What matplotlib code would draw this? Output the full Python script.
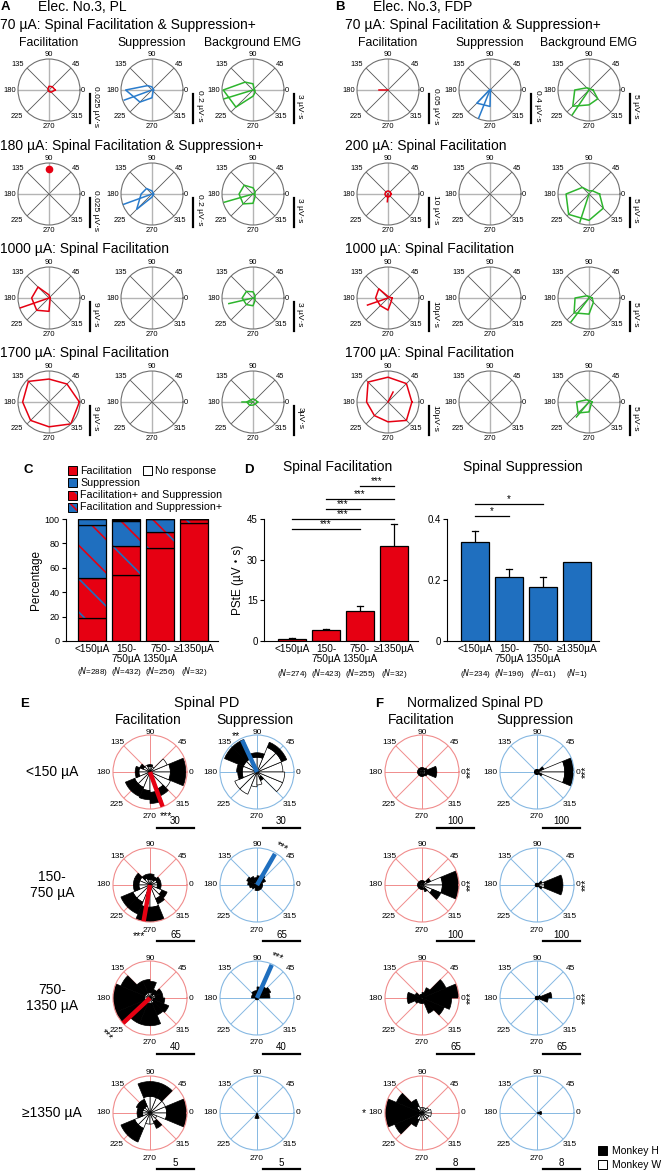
import numpy as np
import matplotlib
matplotlib.use('Agg')
import matplotlib.pyplot as plt
from matplotlib.patches import Rectangle

plt.rcParams['font.family'] = ['Liberation Sans', 'DejaVu Sans', 'Noto Sans CJK JP']
plt.rcParams['hatch.linewidth'] = 1.2
plt.rcParams['axes.linewidth'] = 0.8

# ---------------- data ----------------
ANG = [0, 45, 90, 135, 180, 225, 270, 315]

# Panel A (Elec. No.3, PL) - polygons as fraction of scale-bar value, 8 directions
A_TITLES = ["70 µA: Spinal Facilitation & Suppression+", "180 µA: Spinal Facilitation & Suppression+",
            "1000 µA: Spinal Facilitation", "1700 µA: Spinal Facilitation"]
A_SCALES = [[0.025, 0.2, 3], [0.025, 0.2, 3], [9, None, 3], [9, None, 3]]
A_LABELS = [["0.025 µV·s", "0.2 µV·s", "3 µV·s"], ["0.025 µV·s", "0.2 µV·s", "3 µV·s"],
            ["9 µV·s", None, "3 µV·s"], ["9 µV·s", None, "3µV·s"]]
A_FAC = [[0.2, 0.15, 0.12, 0.05, 0.03, 0.03, 0.05, 0.1],
         None,
         [0.03, 0.03, 0.1, 0.5, 0.56, 0.56, 0.43, 0.05],
         [0.98, 0.82, 0.74, 0.94, 0.85, 0.84, 0.8, 1.0]]
A_FAC_VEC = [None, None, (199, 1.0), None]
A_FAC_DOT = [None, (90, 0.8), None, None]
A_SUP = [[0.05, 0.05, 0.1, 0.2, 0.85, 0.55, 0.25, 0.05],
         [0.05, 0.05, 0.1, 0.25, 0.35, 0.7, 0.1, 0.05], None, None]
A_SUP_VEC = [(200, 0.95), (200, 1.0), None, None]
A_BG = [[0.05, 0.05, 0.2, 0.36, 0.96, 0.78, 0.2, 0.1],
        [0.05, 0.1, 0.2, 0.4, 0.45, 0.45, 0.3, 0.1],
        [0.05, 0.1, 0.2, 0.3, 0.35, 0.3, 0.25, 0.1],
        [0.15, 0.1, 0.1, 0.1, 0.2, 0.15, 0.1, 0.1]]
A_BG_VEC = [(197, 0.98), (196, 0.97), (193, 0.8), (180, 0.35)]

# Panel B (Elec. No.3, FDP)
B_TITLES = ["70 µA: Spinal Facilitation & Suppression+", "200 µA: Spinal Facilitation",
            "1000 µA: Spinal Facilitation", "1700 µA: Spinal Facilitation"]
B_SCALES = [[0.05, 0.4, 5], [10, None, 5], [10, None, 5], [10, None, 5]]
B_LABELS = [["0.05 µV·s", "0.4 µV·s", "5 µV·s"], ["10 µV·s", None, "5 µV·s"],
            ["10µV·s", None, "5 µV·s"], ["10µV·s", None, "5 µV·s"]]
B_FAC = [None,
         [0.1, 0.1, 0.1, 0.1, 0.1, 0.1, 0.1, 0.1],
         [0.13, 0.05, 0.05, 0.42, 0.4, 0.35, 0.39, 0.15],
         [0.77, 0.84, 0.8, 0.91, 0.69, 0.62, 0.64, 0.84]]
B_FAC_VEC = [(180, 0.3), (265, 0.25), (199, 0.7), (63, 0.36)]
B_SUP = [[0.02, 0.02, 0.02, 0.02, 0.02, 0.6, 0.53, 0.02], None, None, None]
B_SUP_VEC = [(248, 0.98), None, None, None]
B_BG = [[0.13, 0.05, 0.05, 0.1, 0.46, 0.74, 0.48, 0.4],
        [0.34, 0.15, 0.1, 0.3, 0.74, 0.93, 0.85, 0.65],
        [0.1, 0.05, 0.05, 0.1, 0.45, 0.68, 0.52, 0.2],
        [0.1, 0.05, 0.05, 0.1, 0.4, 0.5, 0.32, 0.1]]
B_BG_VEC = [(236, 1.0), (252, 0.95), (233, 1.0), (230, 0.63)]

# Panel C
C_CATS = ["<150µA", "150-\n750µA", "750-\n1350µA", "≥1350µA"]
C_N = [288, 432, 256, 32]
C_FAC = [19, 54, 76, 97]
C_FACP_SUP = [33, 24, 13, 3]     # Facilitation+ and Suppression
C_FAC_SUPP = [43, 20, 11, 0]     # Facilitation and Suppression+
C_SUP = [5, 1, 0, 0]
C_NONE = [0, 1, 0, 0]

# Panel D
D_FAC_MEAN = [0.8, 3.9, 11.1, 35.0]
D_FAC_SEM = [0.2, 0.7, 1.8, 8.2]
D_FAC_N = [274, 423, 255, 32]
D_FAC_SIG = [(2, 3, 57.2), (1, 3, 52.4), (1, 2, 48.7), (0, 3, 45.0), (0, 2, 41.3)]
D_SUP_MEAN = [0.325, 0.21, 0.177, 0.259]
D_SUP_SEM = [0.035, 0.026, 0.033, 0.0]
D_SUP_N = [234, 196, 61, 1]
D_SUP_SIG = [(0, 2, 0.449), (0, 1, 0.41)]

# Panels E/F: 16 bins (22.5 deg), white = Monkey W (inner), black = Monkey H (stacked), fraction of scale
E_ROWS = ["<150 µA", "150-\n750 µA", "750-\n1350 µA", "≥1350 µA"]
E_SCALES = [30, 65, 40, 5]
F_SCALES = [100, 100, 65, 8]
E_FAC_W = [[.55, .5, .15, .15, .15, .2, .2, .3, .3, .45, .45, .5, .55, .5, .6, .55],
           [.2, .2, .15, .15, .15, .2, .3, .3, .3, .5, .5, .6, .6, .4, .35, .2],
           [.15, .15, .1, .15, .15, .15, .15, .15, .15, .15, .15, .15, .15, .15, .1, .1],
           [.45, .45, .45, .45, .45, .2, .2, .2, .2, .45, .45, .3, .3, .25, .2, .45]]
E_FAC_H = [[.42, 0, 0, .05, .05, 0, .1, .1, .1, .27, .27, .25, .3, .2, 0, .42],
           [.1, .1, .1, .15, .15, .1, .15, .15, .15, .35, .35, .4, .4, .15, .15, .1],
           [.2, .2, .15, .3, .35, .35, .7, .85, .85, .85, .6, .6, .6, .35, .45, .3],
           [.55, 0, .4, .4, .4, .2, .2, .15, .15, .4, .4, 0, 0, .2, 0, .55]]
E_SUP_W = [[.7, .72, .72, .4, .4, .4, .4, .4, .4, .65, .65, .4, .35, .15, .75, .75],
           [0, .05, .05, .05, .05, .05, .1, .05, .05, .05, .05, .05, .05, .05, .05, .05],
           [0, 0, 0, 0, 0, 0, 0, 0, 0, 0, 0, 0, 0, 0, 0, 0],
           [0, 0, 0, 0, 0, 0, 0, 0, 0, 0, 0, 0, 0, 0, 0, 0]]
E_SUP_H = [[0, .15, .15, .12, .12, .55, .55, .15, .12, 0, 0, 0, 0, .1, 0, 0],
           [.15, .2, .25, .2, .15, .2, .2, .2, .15, .1, .05, .1, .1, .1, .1, .1],
           [.35, .4, .35, .3, .2, .2, .15, .15, .05, .05, .05, .05, .05, .05, .05, .05],
           [0, 0, 0, 0, 0, 0, 0, 0, 0, 0, 0, .15, .15, 0, 0, 0]]
F_FAC_W = [[.1, .1, .08, .08, .08, .08, .08, .08, .08, .08, .08, .08, .08, .08, .1, .1],
           [.55, .15, .07, .07, .07, .07, .07, .07, .07, .07, .07, .07, .07, .1, .3, .55],
           [.05, .05, .05, .05, .05, .05, .05, .05, .05, .05, .05, .05, .05, .05, .05, .05],
           [.25, .2, .15, .15, .15, .2, .1, .05, .05, .1, .2, .2, .2, .2, .2, .25]]
F_FAC_H = [[.3, .05, .04, .04, .04, .04, .04, .04, .04, .04, .04, .04, .04, .04, .05, .3],
           [.45, .1, .05, .05, .05, .05, .05, .05, .05, .05, .05, .05, .05, .1, .25, .45],
           [.95, .65, .25, .1, .05, .05, .15, .35, .35, .15, .1, .1, .1, .4, .6, .75],
           [0, 0, 0, 0, 0, .2, .65, .95, .95, .7, .2, 0, 0, 0, 0, 0]]
F_SUP_W = [[.75, .05, .05, .05, .05, .05, .05, .05, .05, .05, .05, .05, .05, .05, .05, .75],
           [.2, .05, .03, .03, .03, .03, .03, .03, .03, .03, .03, .03, .03, .03, .05, .2],
           [0, 0, 0, 0, 0, 0, 0, 0, 0, 0, 0, 0, 0, 0, 0, 0],
           [0, 0, 0, 0, 0, 0, 0, 0, 0, 0, 0, 0, 0, 0, 0, 0]]
F_SUP_H = [[.25, .15, .02, .02, .02, .02, .02, .02, .02, .02, .02, .02, .02, .02, .1, .25],
           [.5, .1, .02, .02, .02, .02, .02, .02, .02, .02, .02, .02, .02, .02, .1, .5],
           [.4, .1, .05, .05, .05, .05, .05, .05, .05, .05, .05, .05, .05, .05, .05, .3],
           [.12, 0, 0, 0, 0, 0, 0, 0, 0, 0, 0, 0, 0, 0, 0, .12]]
E_FAC_VEC = [(290, 1.0), (260, 1.0), (223, 1.0), None]
E_SUP_VEC = [(115, 0.95), (60, 0.97), (66, 0.98), None]
E_FAC_STAR = [("***", 290, 1.28, 0), ("***", 258, 1.4, 0), ("***", 221, 1.55, -45), None]
E_SUP_STAR = [("**", 120, 1.12, 0), ("***", 57, 1.22, -30), ("***", 64, 1.22, -20), None]
F_FAC_STAR = [("***", 0, 1.32, 90), ("***", 0, 1.32, 90), ("***", 0, 1.32, 90), ("*", 180, 1.57, 0)]
F_SUP_STAR = [("***", 0, 1.32, 90), ("***", 0, 1.32, 90), ("***", 0, 1.32, 90), None]

# ---------------- styling ----------------
RED = '#e60012'
BLUE = '#1f6fbf'
LBLUE = '#2a7ccc'
GREEN = '#2db52d'
LRED = '#f08c8c'
LBLU = '#86b8e2'

# angle label offsets (px) from circle centre: (dx, dy_up)
AB_OFF = {0: (34, 0), 45: (27, 26), 90: (0, 36), 135: (-31, 26), 180: (-39, 0),
          225: (-32, -26), 270: (0, -36), 315: (28, -26)}
EF_OFF = {0: (41, 0), 45: (33, 29), 90: (0, 40), 135: (-33, 29), 180: (-47, 0),
          225: (-33, -32), 270: (0, -45), 315: (33, -32)}

W, H = 663, 1174
fig = plt.figure(figsize=(W / 100, H / 100), dpi=100)
ov = fig.add_axes([0, 0, 1, 1])
ov.set_xlim(0, W)
ov.set_ylim(H, 0)
ov.axis('off')


def polar(cx, cy, r):
    return fig.add_axes([(cx - r) / W, 1 - (cy + r) / H, 2 * r / W, 2 * r / H], projection='polar')


def style_polar(ax, cx, cy, scale, spine_col, spoke_cols, spoke_lws, fs, offs):
    ax.set_ylim(0, scale)
    ax.set_yticks([])
    ax.set_xticks([])
    ax.grid(False)
    ax.spines['polar'].set_color(spine_col)
    ax.spines['polar'].set_linewidth(0.8)
    for i, a in enumerate(ANG):
        ax.plot([np.deg2rad(a)] * 2, [0, scale], color=spoke_cols[i], lw=spoke_lws[i], zorder=1)
        dx, dy = offs[a]
        ov.text(cx + dx, cy - dy, str(a), fontsize=fs, ha='center', va='center')


def ab_axis(cx, cy, scale, poly, vec, col, dot=None):
    ax = polar(cx, cy, 31)
    s = scale if scale else 1
    cols = ['#b4b4b4' if a % 90 == 0 else '#555555' for a in ANG]
    lws = [1.0 if a % 90 == 0 else 0.6 for a in ANG]
    style_polar(ax, cx, cy, s, '#707070', cols, lws, 5.4, AB_OFF)
    if poly is not None:
        th = np.deg2rad(ANG + [ANG[0]])
        rr = np.array(poly + [poly[0]]) * s
        ax.plot(th, rr, color=col, lw=1.1, zorder=3)
    if vec is not None:
        ax.plot([np.deg2rad(vec[0])] * 2, [0, vec[1] * s], color=col, lw=1.1, zorder=3)
    if dot is not None:
        ax.plot(np.deg2rad(dot[0]), dot[1] * s, 'o', color=col, ms=4.5, zorder=3)
    return ax


def scale_bar_v(x, cy, label):
    ov.plot([x, x], [cy + 4, cy + 33], color='black', lw=1.6)
    ov.text(x + 6, cy + 16, label, rotation=-90, fontsize=6, ha='center', va='center')


ROW_Y = [90, 194, 298, 402]
TITLE_Y = [25, 146, 249, 353]

for (letter, lx, elec, ex, titles, tx, xs, scales, labels, fac, facv, sup, supv, bg, bgv, dots) in [
    ("A", 1, "Elec. No.3, PL", 38, A_TITLES, 0, [49, 152, 253], A_SCALES, A_LABELS,
     A_FAC, A_FAC_VEC, A_SUP, A_SUP_VEC, A_BG, A_BG_VEC, A_FAC_DOT),
    ("B", 335, "Elec. No.3, FDP", 373, B_TITLES, 345, [388, 490, 589], B_SCALES, B_LABELS,
     B_FAC, B_FAC_VEC, B_SUP, B_SUP_VEC, B_BG, B_BG_VEC, [None] * 4)]:
    ov.text(lx, 7, letter, fontsize=9.5, fontweight='bold', va='center', ha='left')
    ov.text(ex, 7, elec, fontsize=10, va='center', ha='left')
    for j, name in enumerate(["Facilitation", "Suppression", "Background EMG"]):
        ov.text(xs[j], 43, name, fontsize=8.8, ha='center', va='center')
    for i in range(4):
        ov.text(tx, TITLE_Y[i], titles[i], fontsize=10, ha='left', va='center')
        cy = ROW_Y[i]
        ab_axis(xs[0], cy, scales[i][0], fac[i], facv[i], RED, dots[i])
        ab_axis(xs[1], cy, scales[i][1], sup[i], supv[i], LBLUE)
        ab_axis(xs[2], cy, scales[i][2], bg[i], bgv[i], GREEN)
        for j in range(3):
            if labels[i][j]:
                scale_bar_v(xs[j] + 41, cy, labels[i][j])

# ---------------- Panel C ----------------
ov.text(24, 470, "C", fontsize=9.5, fontweight='bold', va='center')
axc = fig.add_axes([66 / W, 1 - 641 / H, 152 / W, 122 / H])
x = np.arange(4)
bw = 0.82
bottom = np.zeros(4)
segments = [(C_FAC, RED, None, None), (C_FACP_SUP, RED, BLUE, '\\'), (C_FAC_SUPP, BLUE, RED, '\\'),
            (C_SUP, BLUE, None, None), (C_NONE, 'white', None, None)]
for vals, fc, hc, hatch in segments:
    vals = np.array(vals, float)
    if hatch:
        axc.bar(x, vals, bw, bottom=bottom, color=fc, edgecolor=hc, hatch=hatch, lw=0)
    else:
        axc.bar(x, vals, bw, bottom=bottom, color=fc, lw=0)
    axc.bar(x, vals, bw, bottom=bottom, fill=False, edgecolor='black', lw=0.9)
    bottom += vals
axc.set_xlim(-0.76, 3.69)
axc.set_ylim(0, 100)
axc.set_yticks([0, 20, 40, 60, 80, 100])
axc.tick_params(axis='y', labelsize=6.5, length=3, width=0.8, pad=1.5)
axc.set_xticks(x)
axc.set_xticklabels(C_CATS, fontsize=7.3, linespacing=1.0)
axc.tick_params(axis='x', length=0, pad=2)
axc.spines['top'].set_visible(False)
axc.spines['right'].set_visible(False)
axc.set_ylabel("Percentage", fontsize=8.5, labelpad=2)
for i, n in enumerate(C_N):
    ov.text(92 + 34 * i, 671, f"($\\it{{N}}$={n})", fontsize=5.8, ha='center', va='center')

legend_items = [(68, 466, RED, None, None, "Facilitation"), (143, 466, 'white', None, None, "No response"),
                (68, 478, BLUE, None, None, "Suppression"),
                (68, 491, RED, BLUE, '\\\\', "Facilitation+ and Suppression"),
                (68, 503, BLUE, RED, '\\\\', "Facilitation and Suppression+")]
for lx_, ly_, fc, hc, hatch, lab in legend_items:
    if hatch:
        ov.add_patch(Rectangle((lx_, ly_), 9, 9, facecolor=fc, edgecolor=hc, hatch=hatch, lw=0))
    ov.add_patch(Rectangle((lx_, ly_), 9, 9, facecolor=fc if not hatch else 'none', edgecolor='black', lw=0.7))
    ov.text(lx_ + 12, ly_ + 4.5, lab, fontsize=7.7, va='center', ha='left')

# ---------------- Panel D ----------------
ov.text(244, 470, "D", fontsize=9.5, fontweight='bold', va='center')
ov.text(338, 467, "Spinal Facilitation", fontsize=10, ha='center', va='center')
ov.text(523, 467, "Spinal Suppression", fontsize=10, ha='center', va='center')


def d_axes(left, right, means, sems, color, ymax, yticks, ytl, sig, ns, centers0):
    ax = fig.add_axes([left / W, 1 - 641 / H, (right - left) / W, 122 / H])
    ax.bar(x, means, bw, color=color, edgecolor='black', lw=0.9, zorder=2)
    for i in range(4):
        if sems[i] > 0:
            ax.plot([i, i], [means[i], means[i] + sems[i]], color='black', lw=0.9, zorder=1)
            ax.plot([i - 0.1, i + 0.1], [means[i] + sems[i]] * 2, color='black', lw=0.9, zorder=1)
    ax.set_xlim(-(centers0 - left) / 34, 3 + (right - (centers0 + 3 * 34)) / 34)
    ax.set_ylim(0, ymax)
    ax.set_yticks(yticks)
    ax.set_yticklabels(ytl)
    ax.tick_params(axis='y', labelsize=7, length=3, width=0.8, pad=1.5)
    ax.set_xticks(x)
    ax.set_xticklabels(C_CATS, fontsize=7.3, linespacing=1.0)
    ax.tick_params(axis='x', length=0, pad=2)
    ax.spines['top'].set_visible(False)
    ax.spines['right'].set_visible(False)
    for a, b, yv, *rest in sig:
        lab = rest[0] if rest else '***'
        ax.plot([a, b], [yv, yv], color='black', lw=0.9, clip_on=False)
        ax.text((a + b) / 2, yv, lab, fontsize=7, ha='center', va='bottom', clip_on=False)
    for i, n in enumerate(ns):
        ov.text(centers0 + 34 * i, 673, f"($\\it{{N}}$={n})", fontsize=5.8, ha='center', va='center')
    return ax


axd1 = d_axes(264, 418, D_FAC_MEAN, D_FAC_SEM, RED, 45, [0, 15, 30, 45], ['0', '15', '30', '45'],
              D_FAC_SIG, D_FAC_N, 292)
axd1.set_ylabel("PStE (µV・s)", fontsize=8.5, labelpad=2)
axd2 = d_axes(447, 599, D_SUP_MEAN, D_SUP_SEM, BLUE, 0.4, [0, 0.2, 0.4], ['0', '0.2', '0.4'],
              [(a, b, y, '*') for a, b, y in D_SUP_SIG], D_SUP_N, 475)

# ---------------- Panels E / F ----------------
E_ROW_Y = [772, 885, 998, 1113]
ov.text(20, 704, "E", fontsize=9.5, fontweight='bold', va='center')
ov.text(207, 703, "Spinal PD", fontsize=10.5, ha='center', va='center')
ov.text(148, 720, "Facilitation", fontsize=10, ha='center', va='center')
ov.text(255, 720, "Suppression", fontsize=10, ha='center', va='center')
ov.text(375, 704, "F", fontsize=9.5, fontweight='bold', va='center')
ov.text(475, 703, "Normalized Spinal PD", fontsize=10, ha='center', va='center')
ov.text(421, 720, "Facilitation", fontsize=10, ha='center', va='center')
ov.text(535, 720, "Suppression", fontsize=10, ha='center', va='center')

TC = np.deg2rad(np.arange(16) * 22.5 + 11.25)
WD = np.deg2rad(22.5)


def hist_axis(cx, cy, scale, wv, hv, lcol, vcol, vec, star, bar_x):
    ax = polar(cx, cy, 37)
    style_polar(ax, cx, cy, scale, lcol, [lcol] * 8, [0.7] * 8, 6, EF_OFF)
    wv = np.array(wv) * scale
    hv = np.array(hv) * scale
    m = wv > 0
    ax.bar(TC[m], wv[m], width=WD, bottom=0, color='white', edgecolor='black', lw=0.5, zorder=2)
    m = hv > 0
    ax.bar(TC[m], hv[m], width=WD, bottom=wv[m], color='black', edgecolor='black', lw=0.5, zorder=2)
    if vec is not None:
        ax.plot([np.deg2rad(vec[0])] * 2, [0, vec[1] * scale], color=vcol, lw=3.2,
                solid_capstyle='butt', zorder=4)
    if star is not None:
        ax.text(np.deg2rad(star[1]), star[2] * scale, star[0], fontsize=7.5, ha='center', va='center',
                rotation=star[3], clip_on=False)
    yb = cy + 56
    ov.plot([bar_x, bar_x + 37], [yb, yb], color='black', lw=1.6)
    ov.text(bar_x + 18.5, yb - 1.5, str(scale), fontsize=7, ha='center', va='bottom')


for i in range(4):
    cy = E_ROW_Y[i]
    ov.text(52, cy, E_ROWS[i], fontsize=10, ha='center', va='center', linespacing=1.2)
    hist_axis(150, cy, E_SCALES[i], E_FAC_W[i], E_FAC_H[i], LRED, RED, E_FAC_VEC[i], E_FAC_STAR[i], 157)
    hist_axis(257, cy, E_SCALES[i], E_SUP_W[i], E_SUP_H[i], LBLU, BLUE, E_SUP_VEC[i], E_SUP_STAR[i], 263)
    hist_axis(422, cy, F_SCALES[i], F_FAC_W[i], F_FAC_H[i], LRED, RED, None, F_FAC_STAR[i], 437)
    hist_axis(537, cy, F_SCALES[i], F_SUP_W[i], F_SUP_H[i], LBLU, BLUE, None, F_SUP_STAR[i], 543)

ov.add_patch(Rectangle((598, 1146), 9, 9, facecolor='black', edgecolor='black', lw=0.7))
ov.add_patch(Rectangle((598, 1160), 9, 9, facecolor='white', edgecolor='black', lw=0.7))
ov.text(612, 1150.5, "Monkey H", fontsize=7.5, va='center', ha='left')
ov.text(612, 1164.5, "Monkey W", fontsize=7.5, va='center', ha='left')

fig.savefig("out.png", dpi=100)
